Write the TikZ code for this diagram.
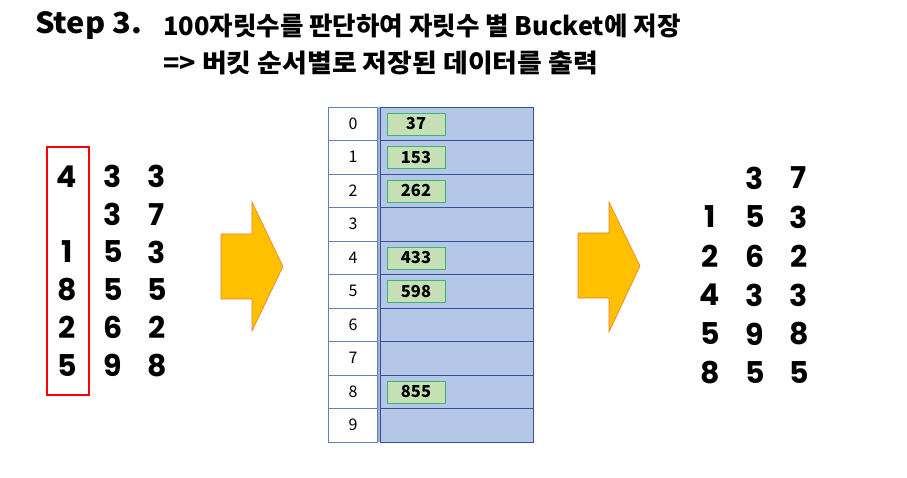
\documentclass[tikz,border=0pt]{standalone}
\usepackage{fontspec}
\setmainfont{Noto Sans CJK KR}
\newfontfamily\numfont{Poppins}
\usetikzlibrary{positioning}
\definecolor{bktblue}{HTML}{B4C7E7}
\definecolor{gridblue}{HTML}{2F5597}
\definecolor{cellgreen}{HTML}{C5E0B4}
\definecolor{edgegreen}{HTML}{3CB371}
\definecolor{arrowgold}{HTML}{FFC000}
\definecolor{arrowedge}{HTML}{ED7D31}
\definecolor{markred}{HTML}{FF0000}

\begin{document}
\begin{tikzpicture}[x=1pt, y=-1pt,
    digit/.style={font=\numfont\bfseries\fontsize{30}{30}\selectfont, inner sep=0pt},
    idxcell/.style={draw=gridblue!75, fill=white, minimum width=49pt, minimum height=33.5pt, inner sep=0pt, font=\fontsize{16}{16}\selectfont},
    bucket/.style={draw=gridblue, fill=bktblue, minimum width=153pt, minimum height=33.5pt, inner sep=0pt},
    item/.style={draw=edgegreen, fill=cellgreen, minimum width=58pt, minimum height=22pt, inner sep=0pt, font=\bfseries\fontsize{16.5}{16.5}\selectfont},
    blockarr/.style={fill=arrowgold, draw=arrowedge, line width=0.6pt, line join=miter},
    title/.style={anchor=base west, inner sep=0pt, font=\bfseries\fontsize{#1}{#1}\selectfont}
  ]
    \useasboundingbox (0,0) rectangle (907,478);
    % heading
    \node[title=29, xscale=1.06] (step) at (35,34) {Step 3.};
    \node[title=25.5] (line1) at (163,36) {100자릿수를 판단하여 자릿수 별 Bucket에 저장};
    \node[title=25.5, xscale=1.055] (line2) at (163,73) {=> 버킷 순서별로 저장된 데이터를 출력};

    % input numbers
    \foreach \a/\b/\c [count=\r] in {4/3/3, /3/7, 1/5/3, 8/5/5, 2/6/2, 5/9/8} {
      \node[digit] (in\r a) at (67,138.5+37.8*\r) {\a};
      \node[digit] (in\r b) at (113,138.5+37.8*\r) {\b};
      \node[digit] (in\r c) at (157,138.5+37.8*\r) {\c};
    }
    \node[draw=markred, line width=1.8pt, minimum width=42pt, minimum height=248pt, inner sep=0pt] (hundreds) at (68,271) {};

    \draw[blockarr] (221,234) -- (252,234) -- (252,202) -- (283,266.5) -- (252,331) -- (252,299) -- (221,299) -- cycle;

    % buckets
    \fill[gridblue!45] (377.5,107) rectangle (380.5,442);
    \foreach \i in {0,...,9} {
      \node[idxcell] (idx\i) at (353,123.75+33.5*\i) {\i};
      \node[bucket] (bkt\i) at (456.5,123.75+33.5*\i) {};
    }
    \node[item, right=7pt of bkt0.west, anchor=west] (v37) {37};
    \node[item, right=7pt of bkt1.west, anchor=west] (v153) {153};
    \node[item, right=7pt of bkt2.west, anchor=west] (v262) {262};
    \node[item, right=7pt of bkt4.west, anchor=west] (v433) {433};
    \node[item, right=7pt of bkt5.west, anchor=west] (v598) {598};
    \node[item, right=7pt of bkt8.west, anchor=west] (v855) {855};

    \draw[blockarr] (578,233) -- (609,233) -- (609,202) -- (640,266) -- (609,332) -- (609,298) -- (578,298) -- cycle;

    % output numbers
    \foreach \a/\b/\c [count=\r] in { /3/7, 1/5/3, 2/6/2, 4/3/3, 5/9/8, 8/5/5} {
      \node[digit] (out\r a) at (710,139+39*\r) {\a};
      \node[digit] (out\r b) at (755,139+39*\r) {\b};
      \node[digit] (out\r c) at (799,139+39*\r) {\c};
    }
\end{tikzpicture}
\end{document}
